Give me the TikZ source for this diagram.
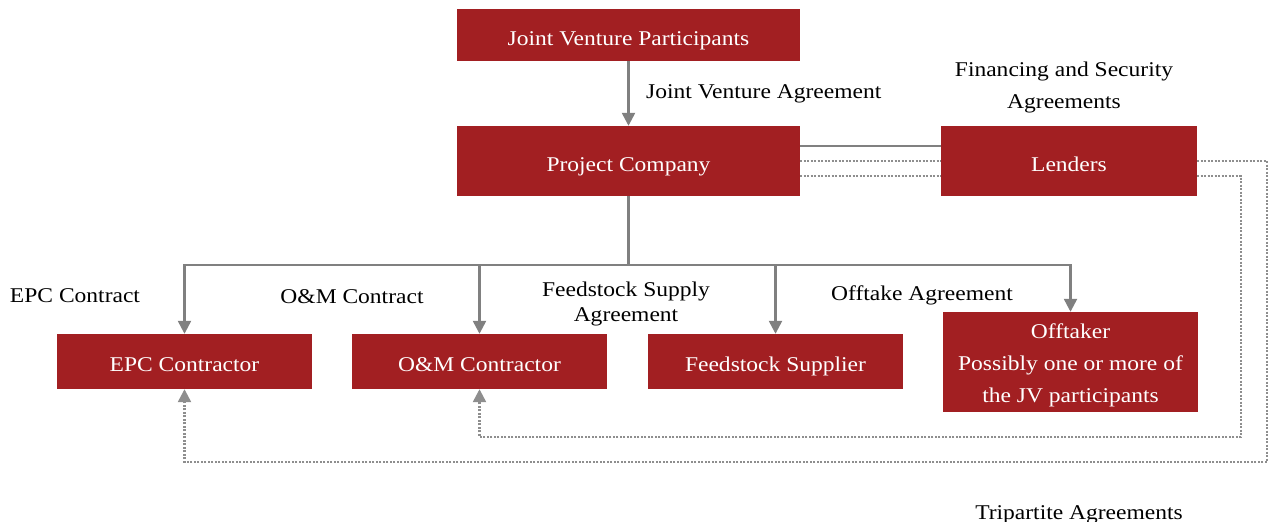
\documentclass[tikz,border=0pt]{standalone}
\usepackage{fontspec}
\setmainfont[FakeStretch=1.12]{Liberation Serif}
\usetikzlibrary{arrows.meta}
\definecolor{boxred}{HTML}{A21F22}
\definecolor{lgray}{HTML}{808080}
\definecolor{dgray}{HTML}{8E8E8E}
\tikzset{
  box/.style={fill=boxred, text=white, inner sep=0pt, align=center, font=\fontsize{21}{32}\selectfont, text height=20pt, text depth=0pt},
  lbl/.style={text=black, inner sep=0pt, align=center, font=\fontsize{21}{32}\selectfont, yshift=-3pt},
  link/.style={draw=lgray, line width=2.4pt},
  arr/.style={link, -{Triangle[length=13pt,width=13pt]}},
  dots/.style={draw=dgray, line width=2.4pt, dash pattern=on 2pt off 1.5pt},
  darr/.style={dots, -{Triangle[length=13pt,width=13pt]}},
}
\begin{document}
\begin{tikzpicture}[x=1pt,y=-1pt]
\useasboundingbox (0,0) rectangle (1269,522);
% boxes
\node[box, minimum width=343pt, minimum height=52pt] (jvp) at (628.5,35) {Joint Venture Participants};
\node[box, minimum width=343pt, minimum height=70pt] (pc) at (628.5,161) {Project Company};
\node[box, minimum width=256pt, minimum height=70pt] (len) at (1069,161) {Lenders};
\node[box, minimum width=255pt, minimum height=55pt] (epc) at (184.5,361.5) {EPC Contractor};
\node[box, minimum width=255pt, minimum height=55pt] (om) at (479.5,361.5) {O\&M Contractor};
\node[box, minimum width=255pt, minimum height=55pt] (fs) at (775.5,361.5) {Feedstock Supplier};
\node[box, minimum width=255pt, minimum height=100pt, text height=80pt] (off) at (1070.5,362) {Offtaker\\Possibly one or more of\\the JV participants};
% labels
\node[lbl, anchor=west] (lja) at (646,91) {Joint Venture Agreement};
\node[lbl] (lfin) at (1064,84) {Financing and Security\\Agreements};
\node[lbl] (lepc) at (75,293) {EPC Contract};
\node[lbl] (lom) at (352,294) {O\&M Contract};
\node[lbl, font=\fontsize{21}{25}\selectfont] (lfs) at (626,301) {Feedstock Supply\\Agreement};
\node[lbl] (loff) at (922,292) {Offtake Agreement};
\node[lbl] (ltri) at (1079,512) {Tripartite Agreements};
% coordinates
\coordinate (bus) at (628.5,265);
\coordinate (o1) at (1267,161);
\coordinate (o2) at (1267,462);
\coordinate (i1) at (1241,176);
\coordinate (i2) at (1241,437);
% connectors
\draw[arr] (jvp.south) -- (pc.north);
\draw[link] (pc.south) -- (bus);
\draw[arr] (bus) -| (epc.north);
\draw[arr] (bus) -| (om.north);
\draw[arr] (bus) -| (fs.north);
\draw[arr] (bus) -| (off.north);
\draw[link] ([yshift=15pt]pc.east) -- ([yshift=15pt]len.west);
\draw[dots] (pc.east) -- (len.west);
\draw[dots] ([yshift=-15pt]pc.east) -- ([yshift=-15pt]len.west);
\draw[darr] (len.east) -- (o1) -- (o2) -| (epc.south);
\draw[darr] ([yshift=-15pt]len.east) -- (i1) -- (i2) -| (om.south);
\end{tikzpicture}
\end{document}
